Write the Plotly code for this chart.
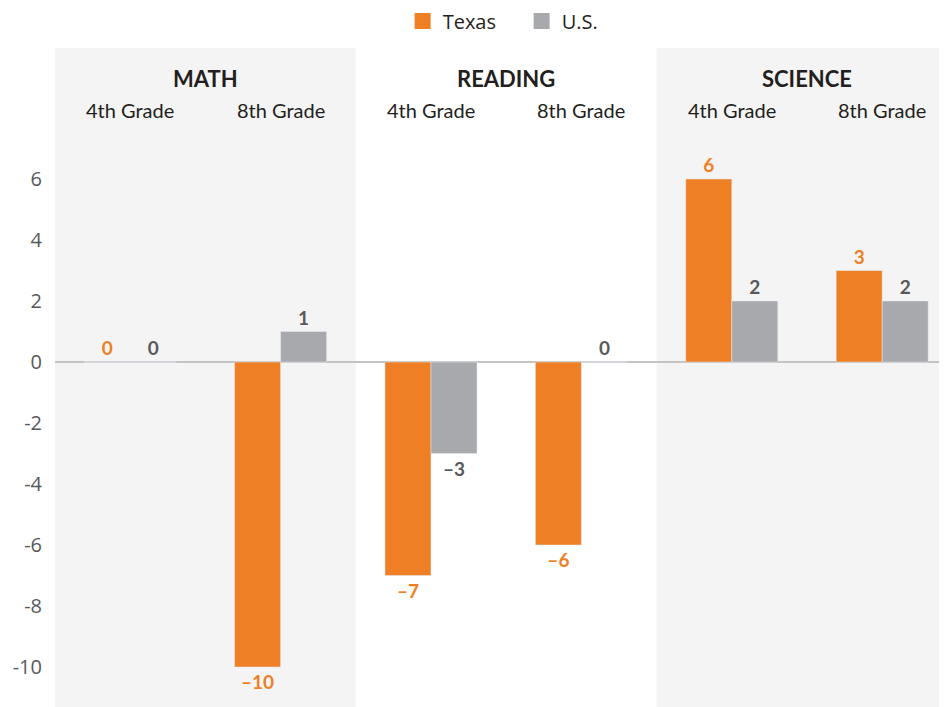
import plotly.graph_objects as go

subjects = ["MATH", "READING", "SCIENCE"]
grades = ["4th Grade", "8th Grade", "4th Grade", "8th Grade", "4th Grade", "8th Grade"]
texas = [0, -10, -7, -6, 6, 3]
us = [0, 1, -3, 0, 2, 2]
y_ticks = [6, 4, 2, 0, -2, -4, -6, -8, -10]

ORANGE = "#EE7F24"
GRAY = "#A7A9AC"
PANEL = "#F4F4F4"
DARK = "#231F20"
FONT = "Lato, 'Open Sans', sans-serif"


def fmt(v):
    return f"–{abs(v)}" if v < 0 else str(v)


xs = list(range(len(grades)))

fig = go.Figure()
fig.add_bar(x=xs, y=texas, name="Texas", marker_color=ORANGE,
            text=[fmt(v) for v in texas], textposition="outside",
            textfont=dict(color=ORANGE, size=19, family=FONT, weight="bold"),
            cliponaxis=False, showlegend=False)
fig.add_bar(x=xs, y=us, name="U.S.", marker_color=GRAY,
            text=[fmt(v) for v in us], textposition="outside",
            textfont=dict(color="#58595B", size=19, family=FONT, weight="bold"),
            cliponaxis=False, showlegend=False)

# legend entries as square markers
for name, col in [("Texas", ORANGE), ("U.S.", GRAY)]:
    fig.add_scatter(x=[None], y=[None], mode="markers", name=name,
                    marker=dict(symbol="square", size=16, color=col))

# shaded subject panels (math, science)
for x0, x1 in [(-0.5, 1.5), (3.5, 5.5)]:
    fig.add_shape(type="rect", xref="x", yref="paper", x0=x0, x1=x1, y0=0, y1=1,
                  fillcolor=PANEL, line_width=0, layer="below")

for i, s in enumerate(subjects):
    fig.add_annotation(x=2 * i + 0.5, y=0.953, xref="x", yref="paper", text=s,
                       yanchor="middle", showarrow=False,
                       font=dict(size=22, color=DARK, family=FONT, weight="bold"))
for x, g in zip(xs, grades):
    fig.add_annotation(x=x, y=0.906, xref="x", yref="paper", text=g,
                       yanchor="middle", showarrow=False,
                       font=dict(size=20, color=DARK, family=FONT))

# page body has an 8px margin, so the figure is sized to end at the window edge
fig.update_layout(
    width=939, height=699,
    margin=dict(l=47, r=0, t=40, b=0, autoexpand=False),
    paper_bgcolor="white", plot_bgcolor="white",
    barmode="group", bargap=0.388, bargroupgap=0,
    font=dict(family=FONT, color=DARK),
    legend=dict(orientation="h", x=0.547, xanchor="center", xref="container",
                y=1.041, yanchor="middle", yref="paper",
                font=dict(size=20, family="'Open Sans', sans-serif", color=DARK),
                itemwidth=30, entrywidth=74, bgcolor="rgba(0,0,0,0)"),
    xaxis=dict(range=[-0.5, 5.431], showticklabels=False, showgrid=False,
               zeroline=False, showline=False, automargin=False),
    yaxis=dict(range=[-11.31, 10.295], tickvals=y_ticks,
               ticktext=[str(v) for v in y_ticks], showgrid=False,
               zeroline=True, zerolinecolor="#C4C4C4", zerolinewidth=2,
               tickfont=dict(size=20, color="#58595B", family="'Open Sans', sans-serif"),
               ticklabelstandoff=12, automargin=False),
)

fig.write_html("out.html")
